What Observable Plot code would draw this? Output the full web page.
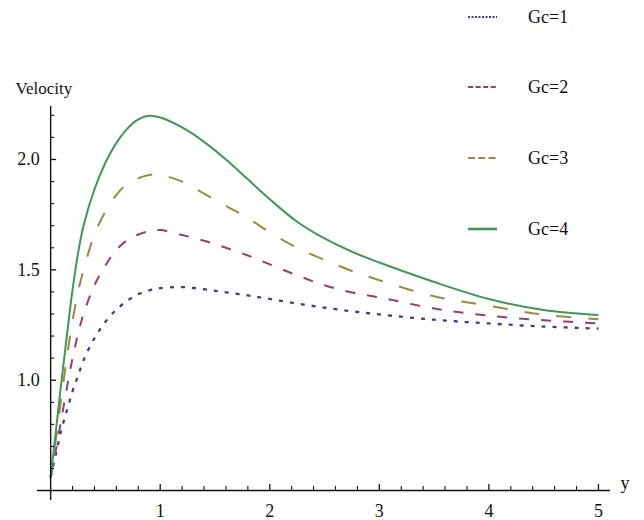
<!DOCTYPE html>
<html>
<head>
<meta charset="utf-8">
<script src="https://cdn.jsdelivr.net/npm/d3@7"></script>
<script src="https://cdn.jsdelivr.net/npm/@observablehq/plot@0.6"></script>
<style>
  html, body { margin: 0; padding: 0; background: #fff; }
  #wrap { position: relative; width: 644px; height: 520px; font-family: "Liberation Serif", "DejaVu Serif", serif; }
  .leg { position: absolute; left: 466px; height: 20px; display: flex; align-items: center; font-size: 18px; color: #111; }
  .leg svg { width: 32px; height: 6px; margin-right: 30px; }
</style>
</head>
<body>
<div id="wrap"></div>
<script>
// ---- data ----
const xs  = [0, 0.05, 0.1, 0.15, 0.2, 0.25, 0.3, 0.4, 0.5, 0.6, 0.7, 0.8, 0.9, 1.0, 1.2, 1.4, 1.6, 1.8, 2.0, 2.25, 2.5, 2.75, 3.0, 3.5, 4.0, 4.5, 5.0];
const gc1 = [0.56, 0.67, 0.78, 0.865, 0.95, 1.02, 1.09, 1.19, 1.265, 1.32, 1.36, 1.39, 1.407, 1.417, 1.422, 1.412, 1.398, 1.384, 1.368, 1.347, 1.329, 1.312, 1.298, 1.274, 1.257, 1.243, 1.234];
const gc2 = [0.56, 0.69, 0.83, 0.97, 1.10, 1.21, 1.30, 1.43, 1.52, 1.59, 1.635, 1.66, 1.675, 1.68, 1.658, 1.632, 1.60, 1.565, 1.525, 1.475, 1.43, 1.397, 1.375, 1.325, 1.292, 1.272, 1.257];
const gc3 = [0.56, 0.74, 0.93, 1.11, 1.27, 1.40, 1.50, 1.66, 1.765, 1.84, 1.89, 1.915, 1.93, 1.93, 1.90, 1.845, 1.79, 1.735, 1.67, 1.60, 1.545, 1.495, 1.453, 1.38, 1.337, 1.297, 1.276];
const gc4 = [0.56, 0.78, 1.00, 1.21, 1.41, 1.575, 1.70, 1.865, 1.985, 2.075, 2.14, 2.182, 2.198, 2.19, 2.145, 2.08, 2.00, 1.91, 1.82, 1.718, 1.642, 1.582, 1.533, 1.445, 1.368, 1.318, 1.295];
const seriesNames = ["Gc=1", "Gc=2", "Gc=3", "Gc=4"];
const xMajorTicks = [1, 2, 3, 4, 5];
const xTickLabels = ["1", "2", "3", "4", "5"];
const xMinorTicks = [0.2, 0.4, 0.6, 0.8, 1.2, 1.4, 1.6, 1.8, 2.2, 2.4, 2.6, 2.8, 3.2, 3.4, 3.6, 3.8, 4.2, 4.4, 4.6, 4.8];
const yMajorTicks = [1.0, 1.5, 2.0];
const yTickLabels = ["1.0", "1.5", "2.0"];
const yMinorTicks = [0.6, 0.7, 0.8, 0.9, 1.1, 1.2, 1.3, 1.4, 1.6, 1.7, 1.8, 1.9, 2.1, 2.2];
const xLabel = "y";
const yLabel = "Velocity";

// ---- styles ----
const styles = [
  {stroke: "#3d3d99", strokeWidth: 2.3, dash: "4,7",   legDash: "2,1.5"},
  {stroke: "#993d71", strokeWidth: 2,   dash: "10,12", legDash: "5,2.6"},
  {stroke: "#998c3d", strokeWidth: 2,   dash: "15,17", legDash: "7,3.3"},
  {stroke: "#3d9954", strokeWidth: 2,   dash: null,    legDash: null}
];
const values = [gc1, gc2, gc3, gc4];
const font = "Liberation Serif";

const lineMarks = values.map((v, k) => Plot.line(xs, {
  x: d => d, y: (d, i) => v[i],
  stroke: styles[k].stroke, strokeWidth: styles[k].strokeWidth,
  strokeDasharray: styles[k].dash, strokeLinecap: "butt",
  curve: "catmull-rom"
}));

const chart = Plot.plot({
  width: 644, height: 520,
  marginLeft: 37, marginRight: 34, marginTop: 106, marginBottom: 20,
  x: {domain: [-0.12, 5.11], axis: null},
  y: {domain: [0.455, 2.24], axis: null},
  style: {fontFamily: font, fontSize: "18px", color: "#111", background: "transparent"},
  marks: [
    ...lineMarks,
    Plot.ruleY([0.5], {stroke: "#111", strokeWidth: 1.4}),
    Plot.ruleX([0], {stroke: "#111", strokeWidth: 1.4}),
    Plot.ruleX(xMajorTicks, {x: d => d, y1: 0.5, y2: 0.5, insetTop: -6, stroke: "#111", strokeWidth: 1.3}),
    Plot.ruleX(xMinorTicks, {x: d => d, y1: 0.5, y2: 0.5, insetTop: -4, stroke: "#111", strokeWidth: 1.1}),
    Plot.ruleY(yMajorTicks, {y: d => d, x1: 0, x2: 0, insetRight: -6, stroke: "#111", strokeWidth: 1.3}),
    Plot.ruleY(yMinorTicks, {y: d => d, x1: 0, x2: 0, insetRight: -4, stroke: "#111", strokeWidth: 1.1}),
    Plot.text(xMajorTicks, {x: d => d, y: 0.5, text: (d, i) => xTickLabels[i], dy: 21, fontSize: 18, fill: "#111"}),
    Plot.text(yMajorTicks, {x: 0, y: d => d, text: (d, i) => yTickLabels[i], dx: -11, textAnchor: "end", fontSize: 18, fill: "#111"}),
    Plot.text([yLabel], {text: d => d, frameAnchor: "top-left", dx: -22, dy: -25, textAnchor: "start", fontSize: 17, fill: "#111"}),
    Plot.text([xLabel], {text: d => d, frameAnchor: "bottom-right", dx: 10, dy: -12, textAnchor: "start", fontSize: 18, fill: "#111"})
  ]
});

const wrap = document.getElementById("wrap");
wrap.appendChild(chart);

// legend (top-right, as in reference)
const legY = [17, 87, 158, 229];
seriesNames.forEach((name, k) => {
  const div = document.createElement("div");
  div.className = "leg";
  div.style.top = (legY[k] - 10) + "px";
  const s = styles[k];
  div.innerHTML = `<svg viewBox="0 0 32 6"><line x1="2" y1="3" x2="31" y2="3" stroke="${s.stroke}" stroke-width="${k === 3 ? 2.6 : 2.2}" ${s.legDash ? `stroke-dasharray="${s.legDash}"` : ""}/></svg><span>${name}</span>`;
  wrap.appendChild(div);
});
</script>
</body>
</html>
